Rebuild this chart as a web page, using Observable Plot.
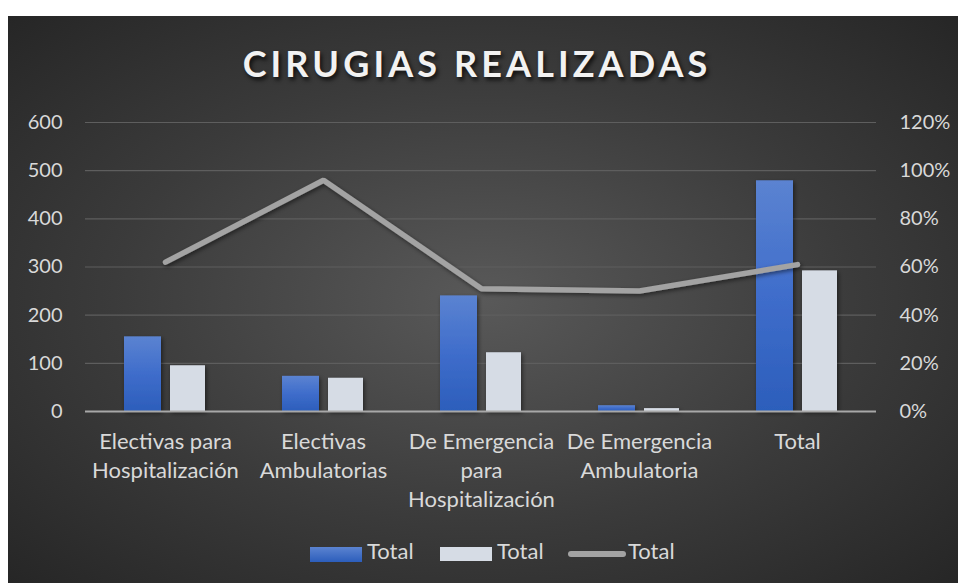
<!DOCTYPE html>
<html>
<head>
<meta charset="utf-8">
<script src="https://cdn.jsdelivr.net/npm/d3@7"></script>
<script src="https://cdn.jsdelivr.net/npm/@observablehq/plot@0.6"></script>
<style>
  html, body { margin: 0; padding: 0; background: #fff; }
  #panel {
    position: absolute; left: 8px; top: 16px; width: 950px; height: 567px; overflow: hidden;
    background: radial-gradient(ellipse farthest-corner at 50% 50%, #595959 0%, #3b3b3b 55%, #262626 100%);
    font-family: Lato, "Open Sans", sans-serif;
  }
  #title {
    position: absolute; left: 0; width: 938px; top: 25px; text-align: center;
    font-size: 36px; font-weight: 700; letter-spacing: 4.1px; color: #f2f2f2;
    text-shadow: 2px 3px 4px rgba(0,0,0,0.75);
  }
  #chart { position: absolute; left: 0; top: 0; }
  .leg { position: absolute; top: 521px; height: 30px; font-size: 22px; color: #d9d9d9; }
  .sw { position: absolute; }
</style>
</head>
<body>
<div id="panel">
  <div id="title">CIRUGIAS REALIZADAS</div>
  <div id="chart"></div>
  <div id="legend"></div>
</div>
<script>
const categories = ["Electivas para Hospitalización", "Electivas Ambulatorias", "De Emergencia para Hospitalización", "De Emergencia Ambulatoria", "Total"];
const categoryLabels = ["Electivas para\nHospitalización", "Electivas\nAmbulatorias", "De Emergencia\npara\nHospitalización", "De Emergencia\nAmbulatoria", "Total"];
const seriesA = [155, 73, 240, 12, 479];   // blue "Total"
const seriesB = [95, 69, 122, 6, 292];     // light "Total"
const seriesPct = [0.62, 0.96, 0.51, 0.50, 0.61]; // line "Total" (right axis)
const leftTicks = [0, 100, 200, 300, 400, 500, 600];
const rightTicks = ["0%", "20%", "40%", "60%", "80%", "100%", "120%"];
const legendLabels = ["Total", "Total", "Total"];

const rowsA = categories.map((c, i) => ({cat: c, v: seriesA[i]}));
const rowsB = categories.map((c, i) => ({cat: c, v: seriesB[i]}));
// right axis 0–120% maps onto left 0–600
const rowsL = categories.map((c, i) => ({cat: c, v: seriesPct[i] * 500}));

const font = "Lato, 'Open Sans', sans-serif";
const plot = Plot.plot({
  width: 950,
  height: 567,
  marginLeft: 77,
  marginRight: 82,
  marginTop: 106,
  marginBottom: 172,
  style: {background: "transparent", color: "#d9d9d9", fontFamily: font, fontSize: "20px"},
  x: {type: "band", domain: categories, paddingInner: 0, paddingOuter: 0, axis: null},
  y: {domain: [0, 600], axis: null},
  marks: [
    Plot.ruleY(leftTicks.slice(1), {stroke: "#5e5e5e", strokeWidth: 1.2}),
    Plot.barY(rowsA, {x: "cat", y: "v", fill: "url(#gradBlue)", insetLeft: 38, insetRight: 83}),
    Plot.barY(rowsB, {x: "cat", y: "v", fill: "#d6dce5", insetLeft: 84, insetRight: 39}),
    Plot.ruleY([0], {stroke: "#a8a8a8", strokeWidth: 2}),
    Plot.line(rowsL, {x: "cat", y: "v", stroke: "#a3a3a3", strokeWidth: 5.5, strokeLinecap: "round", strokeLinejoin: "miter"}),
    Plot.axisY(leftTicks, {anchor: "left", tickSize: 0, tickPadding: 23, fontSize: 20, label: null, fill: "#d9d9d9"}),
    Plot.axisY(leftTicks, {anchor: "right", tickSize: 0, tickPadding: 23, fontSize: 20, label: null, fill: "#d9d9d9",
      tickFormat: (d) => rightTicks[leftTicks.indexOf(d)], textAnchor: "start"}),
    Plot.text(categories, {x: (d) => d, y: () => 0, text: (d, i) => categoryLabels[i], lineAnchor: "top", dy: 17, lineHeight: 1.32, fontSize: 22, fill: "#d9d9d9"})
  ]
});

// gradients and shadows
const svg = d3.select(plot);
const defs = svg.insert("defs", ":first-child");
const g = defs.append("linearGradient").attr("id", "gradBlue").attr("x1", 0).attr("y1", 0).attr("x2", 0).attr("y2", 1);
g.append("stop").attr("offset", "0%").attr("stop-color", "#5b83d1");
g.append("stop").attr("offset", "50%").attr("stop-color", "#3f6dcb");
g.append("stop").attr("offset", "100%").attr("stop-color", "#2c5ebb");
const f = defs.append("filter").attr("id", "shadow").attr("x", "-20%").attr("y", "-20%").attr("width", "140%").attr("height", "140%");
f.append("feDropShadow").attr("dx", 1.5).attr("dy", 2).attr("stdDeviation", 2).attr("flood-color", "#000").attr("flood-opacity", 0.5);
svg.selectAll("g[aria-label='bar'], g[aria-label='line']").attr("filter", "url(#shadow)");

document.getElementById("chart").appendChild(plot);

// legend (HTML)
const legend = document.getElementById("legend");
const items = [
  {x: 302, sw: "background: linear-gradient(#5b83d1, #2c5ebb); width:52px; height:15px; top:10px;"},
  {x: 432, sw: "background:#d6dce5; width:52px; height:14px; top:10px;"},
  {x: 560, sw: "background:#a3a3a3; width:58px; height:6px; top:14px; border-radius:3px;"}
];
items.forEach((it, i) => {
  const d = document.createElement("div");
  d.className = "leg";
  d.style.left = it.x + "px";
  d.style.width = "130px";
  d.innerHTML = `<div class="sw" style="left:0; ${it.sw}"></div><span style="position:absolute; left:${i === 2 ? 60 : 57}px; top:0px;">${legendLabels[i]}</span>`;
  legend.appendChild(d);
});
</script>
</body>
</html>
